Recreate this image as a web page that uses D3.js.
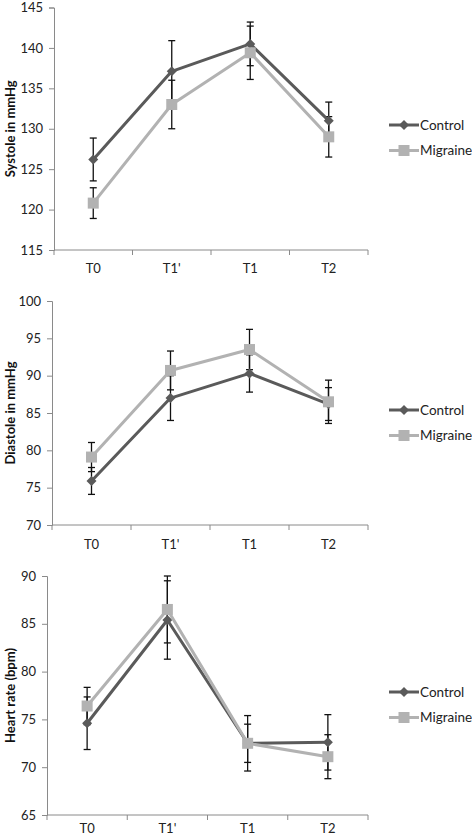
<!DOCTYPE html>
<html>
<head>
<meta charset="utf-8">
<script src="https://cdn.jsdelivr.net/npm/d3@7"></script>
<style>
  html, body { margin: 0; padding: 0; background: #fff; }
  svg { display: block; }
  text { font-family: Lato, "Liberation Sans", sans-serif; }
</style>
</head>
<body>
<svg id="chart" width="472" height="838"></svg>
<script>
// ---- data ----
const categories = ["T0", "T1'", "T1", "T2"];
const seriesNames = ["Control", "Migraine"];

const systoleControl = [126.2, 137.1, 140.5, 131.0];
const systoleControlErr = [2.65, 3.8, 2.7, 2.3];
const systoleMigraine = [120.8, 133.0, 139.4, 129.0];
const systoleMigraineErr = [1.9, 3.0, 3.3, 2.5];
const systoleTicks = [115, 120, 125, 130, 135, 140, 145];

const diastoleControl = [75.9, 87.0, 90.3, 86.2];
const diastoleControlErr = [1.8, 3.0, 2.5, 2.2];
const diastoleMigraine = [79.1, 90.7, 93.5, 86.5];
const diastoleMigraineErr = [1.95, 2.6, 2.7, 2.9];
const diastoleTicks = [70, 75, 80, 85, 90, 95, 100];

const hrControl = [74.6, 85.4, 72.5, 72.6];
const hrControlErr = [2.75, 4.1, 2.0, 2.9];
const hrMigraine = [76.4, 86.5, 72.5, 71.1];
const hrMigraineErr = [1.95, 3.5, 2.9, 2.3];
const hrTicks = [65, 70, 75, 80, 85, 90];

const yTitles = ["Systole in mmHg", "Diastole in mmHg", "Heart rate (bpm)"];

// ---- layout ----
const panels = [
  { title: yTitles[0], ticks: systoleTicks, control: systoleControl, controlErr: systoleControlErr,
    migraine: systoleMigraine, migraineErr: systoleMigraineErr,
    left: 54, right: 368, top: 7.5, bottom: 250, legendY: 125, labelOffset: 18 },
  { title: yTitles[1], ticks: diastoleTicks, control: diastoleControl, controlErr: diastoleControlErr,
    migraine: diastoleMigraine, migraineErr: diastoleMigraineErr,
    left: 52, right: 368, top: 301, bottom: 525, legendY: 410, labelOffset: 19 },
  { title: yTitles[2], ticks: hrTicks, control: hrControl, controlErr: hrControlErr,
    migraine: hrMigraine, migraineErr: hrMigraineErr,
    left: 47, right: 368, top: 576, bottom: 815, legendY: 692, labelOffset: 13 }
];

const colors = { Control: "#5a5a5a", Migraine: "#b2b2b2" };
const axisColor = "#8a8a8a";

const svg = d3.select("#chart");

function diamondPath(s) {
  return `M0,${-s}L${s},0L0,${s}L${-s},0Z`;
}

panels.forEach(p => {
  const g = svg.append("g");
  const x = d3.scaleBand().domain(categories).range([p.left, p.right]).padding(0);
  const y = d3.scaleLinear().domain([d3.min(p.ticks), d3.max(p.ticks)]).range([p.bottom, p.top]);

  // y axis
  const yAxis = g.append("g").attr("transform", `translate(${p.left},0)`)
    .call(d3.axisLeft(y).tickValues(p.ticks).tickSize(5).tickPadding(6).tickFormat(d3.format("d")));
  yAxis.select(".domain").attr("stroke", axisColor);
  yAxis.selectAll(".tick line").attr("stroke", axisColor);
  yAxis.selectAll(".tick text").attr("font-size", 13).attr("fill", "#222")
    .style("font-family", "Lato, 'Liberation Sans', sans-serif");

  // x axis: ticks at category boundaries
  const xAxisG = g.append("g").attr("transform", `translate(0,${p.bottom})`);
  xAxisG.append("line").attr("x1", p.left).attr("x2", p.right).attr("y1", 0).attr("y2", 0)
    .attr("stroke", axisColor);
  const bounds = categories.map(c => x(c)).concat([x(categories[categories.length - 1]) + x.bandwidth()]);
  xAxisG.selectAll("line.bt").data(bounds).join("line").attr("class", "bt")
    .attr("x1", d => d).attr("x2", d => d).attr("y1", 0).attr("y2", 5).attr("stroke", axisColor);
  xAxisG.selectAll("text").data(categories).join("text")
    .attr("x", d => x(d) + x.bandwidth() / 2).attr("y", p.labelOffset).attr("dy", "0.35em")
    .attr("text-anchor", "middle").attr("font-size", 13).attr("fill", "#222").text(d => d);

  // y title
  g.append("text")
    .attr("transform", `translate(15,${(p.top + p.bottom) / 2}) rotate(-90)`)
    .attr("text-anchor", "middle").attr("font-size", 13).attr("font-weight", "bold").attr("fill", "#111")
    .text(p.title);

  const cx = c => x(c) + x.bandwidth() / 2;

  const series = [
    { name: "Control", values: p.control, errs: p.controlErr },
    { name: "Migraine", values: p.migraine, errs: p.migraineErr }
  ];

  // error bars
  series.forEach(s => {
    const eb = g.append("g").attr("stroke", "#111").attr("stroke-width", 1.3);
    categories.forEach((c, i) => {
      const hi = y(s.values[i] + s.errs[i]);
      const lo = y(s.values[i] - s.errs[i]);
      eb.append("line").attr("x1", cx(c)).attr("x2", cx(c)).attr("y1", hi).attr("y2", lo);
      eb.append("line").attr("x1", cx(c) - 3.5).attr("x2", cx(c) + 3.5).attr("y1", hi).attr("y2", hi);
      eb.append("line").attr("x1", cx(c) - 3.5).attr("x2", cx(c) + 3.5).attr("y1", lo).attr("y2", lo);
    });
  });

  // lines and markers
  series.forEach(s => {
    const line = d3.line().x((d, i) => cx(categories[i])).y(d => y(d));
    g.append("path").datum(s.values).attr("d", line).attr("fill", "none")
      .attr("stroke", colors[s.name]).attr("stroke-width", 3).attr("stroke-linejoin", "round");
    if (s.name === "Control") {
      g.selectAll(null).data(s.values).join("path")
        .attr("transform", (d, i) => `translate(${cx(categories[i])},${y(d)})`)
        .attr("d", diamondPath(5)).attr("fill", colors[s.name]);
    } else {
      g.selectAll(null).data(s.values).join("rect")
        .attr("x", (d, i) => cx(categories[i]) - 5.5).attr("y", d => y(d) - 5.5)
        .attr("width", 11).attr("height", 11).attr("fill", colors[s.name]);
    }
  });

  // legend
  seriesNames.forEach((name, k) => {
    const ly = p.legendY + k * 25.5;
    const lg = g.append("g");
    lg.append("line").attr("x1", 389).attr("x2", 419).attr("y1", ly).attr("y2", ly)
      .attr("stroke", colors[name]).attr("stroke-width", 3);
    if (name === "Control") {
      lg.append("path").attr("transform", `translate(404,${ly})`).attr("d", diamondPath(5)).attr("fill", colors[name]);
    } else {
      lg.append("rect").attr("x", 404 - 5.5).attr("y", ly - 5.5).attr("width", 11).attr("height", 11).attr("fill", colors[name]);
    }
    lg.append("text").attr("x", 420).attr("y", ly).attr("dy", "0.35em")
      .attr("font-size", 13.5).attr("fill", "#222").text(name);
  });
});
</script>
</body>
</html>
